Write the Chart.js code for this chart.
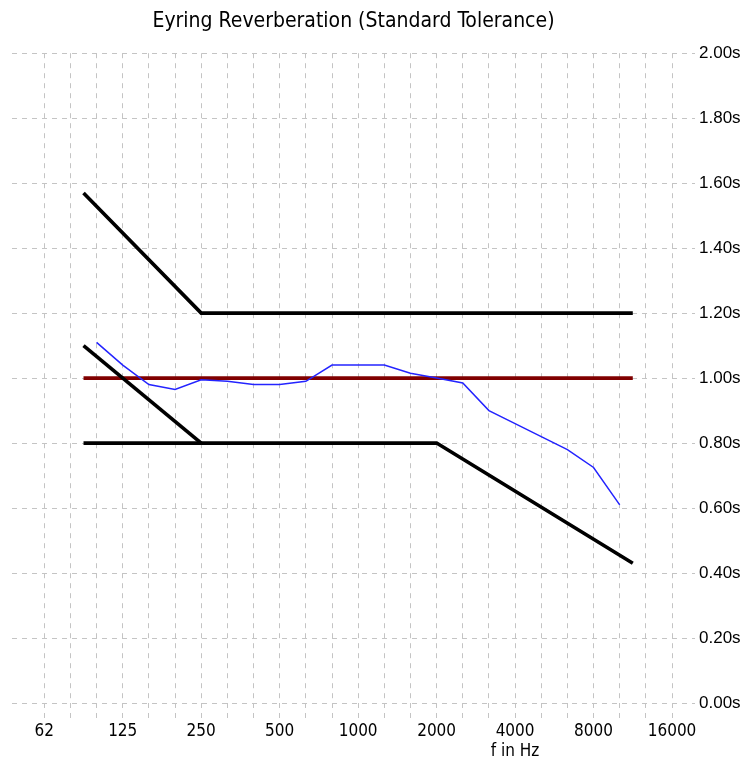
<!DOCTYPE html>
<html>
<head>
<meta charset="utf-8">
<title>Eyring Reverberation</title>
<script src="https://cdn.jsdelivr.net/npm/chart.js@4.4.0/dist/chart.umd.min.js"></script>
<style>
  html, body { margin: 0; padding: 0; background: #fff; }
</style>
</head>
<body>
<canvas id="reverbChart" width="752" height="766"></canvas>
<script>
// third-octave grid lines, labelled every octave
const gridFrequencies = [62.5, 78.7, 99.2, 125, 157.5, 198.4, 250, 315, 397, 500, 630, 794, 1000,
  1260, 1587, 2000, 2520, 3175, 4000, 5040, 6350, 8000, 10080, 12700, 16000];
const octaveLabels = ["62", "125", "250", "500", "1000", "2000", "4000", "8000", "16000"];
const yTicks = [0, 0.2, 0.4, 0.6, 0.8, 1.0, 1.2, 1.4, 1.6, 1.8, 2.0];

// measured reverberation (blue), third-octave bands
const bandFrequencies = [99.2, 125, 157.5, 198.4, 250, 315, 397, 500, 630, 794, 1000, 1260,
  1587, 2000, 2520, 3175, 4000, 5040, 6350, 8000, 10080];
const eyringTimes = [1.11, 1.04, 0.98, 0.965, 0.995, 0.99, 0.98, 0.98, 0.99, 1.04, 1.04, 1.04,
  1.015, 1.0, 0.985, 0.90, 0.86, 0.82, 0.78, 0.725, 0.61];

// tolerance lines
const upperFreqs = [88.4, 250, 11314];
const upperTolerance = [1.57, 1.2, 1.2];
const lowerFreqs = [88.4, 2000, 11314];
const lowerTolerance = [0.8, 0.8, 0.43];
const slopeFreqs = [88.4, 250];
const slopeTolerance = [1.1, 0.8];
const targetFreqs = [88.4, 11314];
const targetTime = [1.0, 1.0];

const axisTitle = "f in Hz";
const axisTitleAt = "4000";

const narrowFont = "'DejaVu Sans Condensed', 'Liberation Sans Narrow', sans-serif";
const gridColor = "#c4c4c4";
const gridDash = [5, 5];

function toPoints(xs, ys) {
  return xs.map((x, i) => ({ x: x, y: ys[i] }));
}

function lineSet(label, xs, ys, color, width) {
  return {
    label: label,
    data: toPoints(xs, ys),
    borderColor: color,
    backgroundColor: color,
    borderWidth: width,
    pointRadius: 0,
    tension: 0,
    fill: false,
  };
}

document.addEventListener("DOMContentLoaded", function () {
  const ctx = document.getElementById("reverbChart").getContext("2d");

  new Chart(ctx, {
    type: "line",
    data: {
      datasets: [
        lineSet("Eyring", bandFrequencies, eyringTimes, "#2424ff", 1.5),
        lineSet("Upper", upperFreqs, upperTolerance, "#000000", 3.6),
        lineSet("Slope", slopeFreqs, slopeTolerance, "#000000", 3.6),
        lineSet("Lower", lowerFreqs, lowerTolerance, "#000000", 3.6),
        lineSet("Target", targetFreqs, targetTime, "#800000", 3.6),
      ],
    },
    options: {
      responsive: false,
      animation: false,
      devicePixelRatio: 1,
      layout: { padding: { left: 12, right: 0, top: 0, bottom: 0 } },
      plugins: {
        legend: { display: false },
        tooltip: { enabled: false },
        title: {
          display: true,
          fullSize: false, // centre over the plot area, not the canvas
          text: "Eyring Reverberation (Standard Tolerance)",
          color: "#000",
          font: { family: narrowFont, size: 21, weight: "normal", lineHeight: 1.2 },
          padding: { top: 9, bottom: 19 },
        },
      },
      scales: {
        x: {
          type: "logarithmic",
          min: 47,
          max: 19600,
          bounds: "data",
          afterBuildTicks: function (scale) {
            scale.ticks = gridFrequencies.map((f) => ({ value: f }));
          },
          afterFit: function (scale) {
            scale.height = 63;
          },
          border: { display: false, dash: gridDash },
          grid: {
            color: gridColor,
            lineWidth: 1,
            drawTicks: true,
            tickLength: 15,
            tickBorderDash: gridDash,
          },
          ticks: {
            autoSkip: false,
            maxRotation: 0,
            minRotation: 0,
            padding: 3,
            color: "#000",
            font: { family: narrowFont, size: 17, lineHeight: 1.2 },
            callback: function (value, index) {
              if (index % 3 !== 0) return "";
              const label = octaveLabels[index / 3];
              return label === axisTitleAt ? [label, axisTitle] : label;
            },
          },
        },
        y: {
          position: "right",
          min: 0,
          max: 2,
          afterBuildTicks: function (scale) {
            scale.ticks = yTicks.map((v) => ({ value: v }));
          },
          afterFit: function (scale) {
            scale.width = 57;
          },
          border: { display: false, dash: gridDash },
          grid: { color: gridColor, lineWidth: 1, drawTicks: false },
          ticks: {
            padding: 4,
            color: "#000",
            font: { family: "'Liberation Sans', Arial, sans-serif", size: 17 },
            callback: function (value) {
              return value.toFixed(2) + "s";
            },
          },
        },
      },
    },
  });
});
</script>
</body>
</html>
